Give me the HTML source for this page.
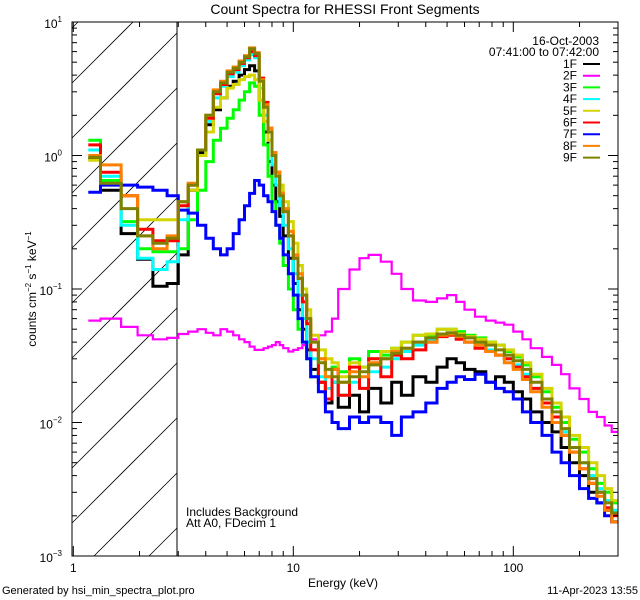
<!DOCTYPE html>
<html><head><meta charset="utf-8"><style>
html,body{margin:0;padding:0;width:640px;height:600px;overflow:hidden;background:#fff;}
svg{display:block;font-family:"Liberation Sans",sans-serif;}
</style></head><body>
<svg id="chart" width="640" height="600" xmlns="http://www.w3.org/2000/svg">
<rect width="640" height="600" fill="#fff"/>
<text x="345" y="14" font-size="14" text-anchor="middle">Count Spectra for RHESSI Front Segments</text>
<defs><clipPath id="pc"><rect x="72" y="22" width="546" height="534"/></clipPath></defs>
<g id="hatch"></g>
<line x1="177" y1="22" x2="177" y2="556" stroke="#000" stroke-width="1"/>
<g id="series" clip-path="url(#pc)"></g>
<rect x="72" y="22" width="546" height="534" fill="none" stroke="#000" stroke-width="1"/>
<g id="axes"></g>
<text x="343" y="587" font-size="12" text-anchor="middle">Energy (keV)</text>
<text transform="translate(36,289) rotate(-90)" font-size="12" text-anchor="middle">counts cm<tspan font-size="8" dy="-5">−2</tspan><tspan dy="5"> s</tspan><tspan font-size="8" dy="-5">−1</tspan><tspan dy="5"> keV</tspan><tspan font-size="8" dy="-5">−1</tspan></text>
<text x="186" y="516" font-size="12">Includes Background</text>
<text x="186" y="527" font-size="12">Att A0, FDecim 1</text>
<text x="599" y="45" font-size="12" text-anchor="end">16-Oct-2003</text>
<text x="599" y="56" font-size="12" text-anchor="end">07:41:00 to 07:42:00</text>
<g id="legend"></g>
<text x="2" y="594" font-size="11">Generated by hsi_min_spectra_plot.pro</text>
<text x="638" y="594" font-size="11" text-anchor="end">11-Apr-2023 13:55</text>
</svg>
<script>
const edges=[1.17,1.33,1.65,1.96,2.3,2.67,3.0,3.33,3.67,4.0,4.33,4.67,5.0,5.33,5.67,6.0,6.33,6.67,7.0,7.33,7.67,8.0,8.33,8.67,9.0,9.5,10,10.5,11,11.5,12,13,14,15,16,18,20,22,25,28,31,35,40,45,50,55,60,67,75,83,91,100,110,120,135,150,165,180,200,220,240,260,280,300];
const seriesNames=["1F","2F","3F","4F","5F","6F","7F","8F","9F"];
const seriesColors=["#000000","#ff00ff","#00ff00","#00ffff","#d4d400","#ff0000","#0000ff","#ff8000","#808000"];
const s1F=[0.95,0.55,0.26,0.167,0.105,0.11,0.18,0.55,1.05,1.7,2.2,2.7,3.3,3.6,4.0,4.4,4.7,4.3,2.6,1.5,0.9,0.6,0.45,0.35,0.25,0.17,0.11,0.07,0.05,0.035,0.025,0.02,0.014,0.02,0.013,0.016,0.012,0.018,0.014,0.02,0.016,0.022,0.02,0.026,0.03,0.028,0.025,0.024,0.02,0.022,0.02,0.017,0.015,0.012,0.01,0.0085,0.0065,0.005,0.004,0.003,0.0025,0.0022,0.0018];
const s2F=[0.058,0.06,0.052,0.045,0.042,0.043,0.046,0.048,0.05,0.047,0.045,0.05,0.048,0.045,0.042,0.04,0.037,0.035,0.035,0.036,0.037,0.038,0.04,0.038,0.036,0.034,0.035,0.036,0.038,0.04,0.042,0.045,0.048,0.06,0.1,0.14,0.17,0.18,0.16,0.13,0.1,0.082,0.08,0.085,0.09,0.08,0.07,0.062,0.058,0.056,0.054,0.048,0.042,0.036,0.031,0.027,0.023,0.018,0.015,0.012,0.011,0.0095,0.0085];
const s3F=[1.3,0.65,0.32,0.2,0.19,0.19,0.2,0.33,0.55,0.9,1.3,1.6,1.9,2.2,2.6,3.0,3.5,3.3,2.0,1.2,0.7,0.45,0.3,0.22,0.15,0.1,0.07,0.05,0.04,0.03,0.022,0.03,0.022,0.026,0.024,0.03,0.026,0.034,0.032,0.036,0.04,0.045,0.044,0.05,0.05,0.048,0.045,0.043,0.04,0.038,0.034,0.031,0.027,0.022,0.017,0.013,0.01,0.0075,0.006,0.0045,0.0035,0.003,0.0025];
const s4F=[1.1,0.7,0.3,0.17,0.14,0.16,0.33,0.6,1.0,1.8,2.7,3.3,3.9,4.2,4.7,5.2,5.7,5.4,3.2,2.0,1.3,0.85,0.6,0.42,0.3,0.2,0.13,0.09,0.06,0.04,0.03,0.022,0.018,0.02,0.016,0.02,0.018,0.024,0.026,0.03,0.034,0.038,0.042,0.045,0.046,0.043,0.04,0.038,0.035,0.032,0.03,0.027,0.023,0.018,0.014,0.011,0.0085,0.0065,0.005,0.004,0.0032,0.0026,0.0022];
const s5F=[0.92,0.6,0.5,0.33,0.33,0.33,0.45,0.55,1.0,1.5,2.3,2.7,3.2,3.4,3.7,3.9,4.0,3.7,2.6,1.8,1.3,1.0,0.75,0.6,0.45,0.32,0.22,0.15,0.1,0.07,0.045,0.035,0.03,0.028,0.022,0.028,0.026,0.03,0.034,0.036,0.04,0.045,0.046,0.05,0.05,0.046,0.044,0.042,0.04,0.038,0.035,0.032,0.028,0.023,0.018,0.014,0.011,0.008,0.0065,0.005,0.004,0.0032,0.0026];
const s6F=[1.2,0.75,0.5,0.28,0.23,0.23,0.42,0.6,1.1,1.9,2.9,3.4,4.1,4.4,4.9,5.4,6.0,5.6,3.8,2.5,1.6,1.05,0.75,0.52,0.38,0.25,0.17,0.12,0.08,0.055,0.035,0.02,0.015,0.025,0.016,0.026,0.018,0.03,0.022,0.032,0.03,0.035,0.04,0.044,0.045,0.042,0.04,0.036,0.034,0.032,0.03,0.026,0.022,0.018,0.014,0.011,0.008,0.006,0.0045,0.0035,0.003,0.0023,0.002];
const s7F=[0.53,0.6,0.6,0.58,0.55,0.5,0.39,0.37,0.3,0.24,0.2,0.18,0.2,0.26,0.33,0.42,0.52,0.65,0.6,0.5,0.45,0.38,0.3,0.24,0.18,0.13,0.09,0.06,0.04,0.03,0.022,0.017,0.012,0.01,0.009,0.011,0.01,0.011,0.01,0.008,0.011,0.012,0.014,0.018,0.02,0.022,0.021,0.023,0.02,0.018,0.017,0.015,0.012,0.01,0.008,0.006,0.005,0.004,0.0032,0.0027,0.0025,0.002,0.0018];
const s8F=[1.0,0.85,0.5,0.25,0.2,0.25,0.45,0.62,1.1,2.0,3.1,3.6,4.3,4.6,5.1,5.6,6.4,5.9,3.7,2.4,1.6,1.05,0.75,0.52,0.4,0.27,0.18,0.13,0.09,0.06,0.04,0.03,0.022,0.025,0.02,0.024,0.022,0.028,0.03,0.034,0.036,0.04,0.04,0.045,0.046,0.044,0.04,0.038,0.034,0.032,0.028,0.025,0.021,0.017,0.013,0.01,0.008,0.006,0.0045,0.0035,0.0028,0.0022,0.0018];
const s9F=[0.97,0.62,0.40,0.25,0.22,0.24,0.45,0.6,1.1,2.0,3.0,3.5,4.2,4.5,5.0,5.5,6.3,5.8,3.6,2.3,1.5,1.0,0.7,0.5,0.38,0.25,0.17,0.12,0.09,0.06,0.04,0.028,0.025,0.022,0.02,0.022,0.024,0.027,0.03,0.033,0.036,0.04,0.043,0.046,0.047,0.045,0.043,0.04,0.038,0.035,0.032,0.029,0.025,0.02,0.015,0.012,0.009,0.0065,0.005,0.0038,0.003,0.0025,0.0021];
const yTickExps=[1,0,-1,-2,-3];
const xTickLabels=["1","10","100"];

const NS="http://www.w3.org/2000/svg";
const L=72,R=618,T=22,B=556,HX=177;
const X0=73.3,XD=220;
function xs(e){return X0+XD*Math.log10(e);}
function ys(v){return T+(1-Math.log10(v))*133.5;}
function mk(tag,attrs,parent){const el=document.createElementNS(NS,tag);for(const k in attrs)el.setAttribute(k,attrs[k]);parent.appendChild(el);return el;}

// hatch: lines y = c - x, clipped to [L,HX]x[T,B]
const hg=document.getElementById('hatch');
for(let k=-2;k<14;k++){
  const c=83+L+k*55;
  let xa=Math.max(L,c-B), xb=Math.min(HX,c-T);
  if(xb<=xa)continue;
  const ln=mk('line',{x1:xa,y1:c-xa,x2:xb,y2:c-xb,stroke:'#000','stroke-width':0.8},hg);
  
  
}

const allSeries=[s1F,s2F,s3F,s4F,s5F,s6F,s7F,s8F,s9F];
const sg=document.getElementById('series');
function cy(y){return Math.max(T-3,Math.min(B+3,y));}
allSeries.forEach((vals,i)=>{
  let d='';
  const n=Math.min(vals.length,edges.length-1);
  for(let j=0;j<n;j++){
    const xa=Math.min(xs(edges[j]),R+2),xb=Math.min(xs(edges[j+1]),R+2),y=cy(ys(vals[j]));
    d+=(j===0?'M':'L')+xa.toFixed(1)+','+y.toFixed(1)+'L'+xb.toFixed(1)+','+y.toFixed(1);
  }
  const p=mk('path',{d:d,fill:'none',stroke:seriesColors[i],'stroke-width':i===1?2.2:3,'stroke-linejoin':'miter'},sg);
  
  
});

const ag=document.getElementById('axes');
for(let dec=0;dec<3;dec++){
  for(let m=1;m<10;m++){
    const e=Math.pow(10,dec)*m; if(e>300)break;
    const x=xs(e); if(x<L||x>R)continue;
    const len=m===1?10:5;
    const t1=mk('line',{x1:x,y1:B,x2:x,y2:B-len,stroke:'#000'},ag);
    
    
    const t2=mk('line',{x1:x,y1:T,x2:x,y2:T+len,stroke:'#000'},ag);
    
    
  }
}
xTickLabels.forEach(lbl=>{
  const t=mk('text',{x:xs(parseFloat(lbl)),y:572,'font-size':12,'text-anchor':'middle'},ag);
  t.textContent=lbl;
  
  
});
for(let ex=-3;ex<1;ex++){
  for(let m=1;m<=10;m++){
    const v=Math.pow(10,ex)*m; const y=ys(v);
    const len=(m===1||m===10)?10:5;
    const a=mk('line',{x1:L,y1:y,x2:L+len,y2:y,stroke:'#000'},ag);
    
    
    const b=mk('line',{x1:R,y1:y,x2:R-len,y2:y,stroke:'#000'},ag);
    
    
  }
}
yTickExps.forEach(ex=>{
  const t=mk('text',{x:62,y:ys(Math.pow(10,ex))+6,'font-size':12,'text-anchor':'end'},ag);
  t.textContent='10';
  const sp=mk('tspan',{'font-size':8,dy:-6},t);
  sp.textContent=String(ex).replace('-','−');
  
  
});

const lg=document.getElementById('legend');
seriesNames.forEach((nm,i)=>{
  const y=64+i*11.7;
  const t=mk('text',{x:577,y:y+4,'font-size':12,'text-anchor':'end'},lg);
  t.textContent=nm;
  
  
  const l=mk('line',{x1:583,y1:y,x2:600,y2:y,stroke:seriesColors[i],'stroke-width':2},lg);
  
  
});
</script>
</body></html>
